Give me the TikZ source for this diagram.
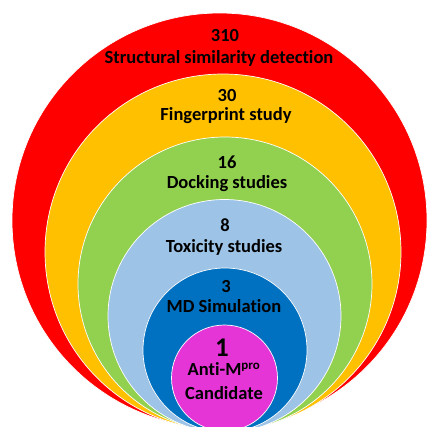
\documentclass[tikz,border=0pt]{standalone}
\usepackage{fontspec}
\setmainfont[Ligatures=NoCommon]{Carlito}

\definecolor{stageRed}{HTML}{FF0000}
\definecolor{stageYellow}{HTML}{FFC000}
\definecolor{stageGreen}{HTML}{92D050}
\definecolor{stageSky}{HTML}{9DC3E6}
\definecolor{stageBlue}{HTML}{0070C0}
\definecolor{stagePink}{HTML}{E535D6}

\begin{document}
\begin{tikzpicture}[x=1pt, y=-1pt,
    ring/.style={circle, draw=white, line width=0.7pt, inner sep=0pt},
    every node/.style={font=\fontsize{18.5}{20}\selectfont\bfseries, inner sep=0pt}]

    \useasboundingbox (0,0) rectangle (428,426);
    \clip (0,0) rectangle (428,426);

    % Define the screening rings (outer to inner, all touching near the bottom)
    \node[ring, fill=stageRed,    minimum size=415pt] (red)    at (219.5, 220.5) {};
    \node[ring, fill=stageYellow, minimum size=356pt] (yellow) at (223, 252) {};
    \node[ring, fill=stageGreen,  minimum size=294pt] (green)  at (225, 284) {};
    \node[ring, fill=stageSky,    minimum size=233pt] (sky)    at (224.5, 316) {};
    \node[ring, fill=stageBlue,   minimum size=164pt] (blue)   at (225, 350) {};
    \node[ring, fill=stagePink,   minimum size=106pt] (pink)   at (224.5, 378) {};

    % Define the counts and stage labels
    \node (n310) at (225, 35) {310};
    \node (structural) at (219, 58) {Structural similarity detection};
    \node (n30) at (227, 95) {30};
    \node (fingerprint) at (226, 116) {Fingerprint study};
    \node (n16) at (227, 162) {16};
    \node (docking) at (227, 184) {Docking studies};
    \node (n8) at (225, 225) {8};
    \node (toxicity) at (224, 247) {Toxicity studies};
    \node (n3) at (226, 286) {3};
    \node (md) at (224, 306) {MD Simulation};
    \node[font=\fontsize{27}{29}\selectfont\bfseries] (n1) at (222, 348) {1};
    \node (antimpro) at (224, 369) {Anti-M\textsuperscript{pro}};
    \node (candidate) at (224, 393) {Candidate};

\end{tikzpicture}
\end{document}
